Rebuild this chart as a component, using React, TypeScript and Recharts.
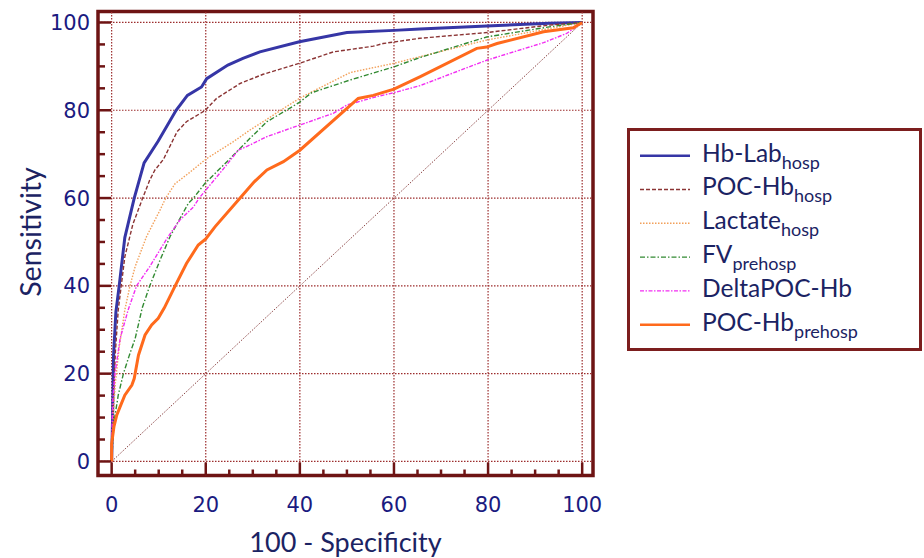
import React from 'react'
import { LineChart, Line, XAxis, YAxis, ReferenceLine, ReferenceArea, Legend, Label } from 'recharts'

// [100 - specificity, sensitivity]
const hbLabHosp: [number, number][] = [
  [0, 0], [0.2, 10], [0.4, 24], [0.9, 34], [1.6, 40], [2.8, 51], [4.8, 60], [6.9, 68], [9.9, 73],
  [13.7, 80], [16.1, 83.4], [19.1, 85.3], [20.2, 87.2], [24.7, 90.3], [27.9, 91.8], [31.5, 93.3],
  [39.9, 95.6], [50, 97.7], [60, 98.2], [65.5, 98.5], [79.7, 99.2], [93, 99.8], [100, 100],
]
const pocHbHosp: [number, number][] = [
  [0, 0], [0.3, 12], [0.8, 25], [1.4, 34.5], [2.8, 46.6], [4.5, 54], [6.6, 60], [8.1, 64.1],
  [9.2, 66.4], [11, 68.8], [13.9, 75.1], [15.9, 77.4], [19.8, 79.9], [22.3, 82.7], [27.3, 86.1],
  [32.2, 88.2], [39.9, 90.7], [47.1, 93.3], [55.6, 94.6], [57.7, 95.2], [65.5, 96.4], [79.7, 97.7],
  [93, 99.4], [100, 100],
]
const lactateHosp: [number, number][] = [
  [0, 0], [0.3, 10], [0.8, 18], [1.6, 26], [2.8, 34.5], [3.9, 40], [5, 44.4], [7.4, 51.2],
  [10.3, 57.3], [11.5, 60], [13.5, 63.3], [16.3, 65.6], [20.2, 69], [25.8, 72.8], [29.4, 75.5],
  [32.2, 77.4], [36.5, 80.4], [39.9, 82.7], [42.2, 84], [50.7, 88.6], [60, 90.7], [65.5, 92.2],
  [79.7, 96], [93, 98.6], [100, 100],
]
const fvPrehosp: [number, number][] = [
  [0, 0], [0.5, 9], [1.4, 15.1], [2.5, 20], [3.7, 24], [5, 28], [6.5, 35], [8.1, 40], [10.3, 45.9],
  [12.4, 51.2], [16.3, 58.8], [17.4, 60], [19.8, 63.3], [24.8, 68.6], [29.4, 73.6], [33, 77.4],
  [36.5, 79.6], [39.9, 81.8], [42.5, 84], [50.7, 86.9], [60, 89.9], [65.5, 92], [79.7, 96.7],
  [93, 99], [100, 100],
]
const deltaPocHb: [number, number][] = [
  [0, 0], [0.1, 9], [0.3, 15], [0.7, 20], [1.8, 28], [3.5, 34.5], [5.3, 40], [8.1, 44.4],
  [12, 51.2], [14.5, 55], [17.4, 58], [18.6, 60], [24.1, 67.1], [26.9, 70.9], [29.4, 72.1],
  [33, 74], [39.9, 76.6], [47.1, 79.3], [50, 81.2], [56.3, 83.1], [60, 84], [65.5, 85.6],
  [79.7, 91.4], [91.8, 95.4], [96.7, 97.5], [100, 100],
]
const pocHbPrehosp: [number, number][] = [
  [0, 0], [0, 4], [0.5, 8], [1.1, 10.6], [2, 13], [2.8, 15.1], [4.3, 17.4], [4.8, 18.9], [5.7, 24.2],
  [7.1, 28.8], [8.5, 31.1], [9.9, 32.6], [11.2, 35], [13.5, 40], [15.9, 45.1], [18.4, 49.3],
  [20, 50.7], [22, 53.5], [27.3, 60], [30.3, 63.7], [33, 66.4], [36.5, 68.3], [40, 70.9],
  [52.4, 82.7], [55.6, 83.4], [60, 84.8], [65.5, 87.6], [77.6, 94.1], [79.7, 94.4], [81.9, 95.2],
  [91.8, 97.9], [98.1, 98.8], [100, 100],
]
const chance: [number, number][] = [[0, 0], [100, 100]]

const axisTicks = [0, 5, 10, 15, 20, 25, 30, 35, 40, 45, 50, 55, 60, 65, 70, 75, 80, 85, 90, 95, 100]
const gridValues = [0, 20, 40, 60, 80, 100]

const FRAME = '#6e1414'
const GRID = '#9c2d2d'
const NAVY = '#1a1a80'
const TEXT = '#1b2363'

const series = [
  { name: 'Hb-Lab', sub: 'hosp', data: hbLabHosp, color: '#3636a6', width: 3, dash: undefined },
  { name: 'POC-Hb', sub: 'hosp', data: pocHbHosp, color: '#8b3434', width: 1.4, dash: '4 2' },
  { name: 'Lactate', sub: 'hosp', data: lactateHosp, color: '#f2a05a', width: 1.4, dash: '1.5 1.5' },
  { name: 'FV', sub: 'prehosp', data: fvPrehosp, color: '#328a32', width: 1.4, dash: '5 2 1.5 2' },
  { name: 'DeltaPOC-Hb', sub: '', data: deltaPocHb, color: '#f22ef2', width: 1.4, dash: '4 1.5 1.5 1.5' },
  { name: 'POC-Hb', sub: 'prehosp', data: pocHbPrehosp, color: '#ff6a1c', width: 3, dash: undefined },
]

const toPoints = (d: [number, number][]) => d.map(([v, s]) => ({ v, s }))

const XTick = (props: any) => {
  const { x, y, payload } = props
  const major = payload.value % 20 === 0
  return (
    <g>
      <line x1={x} x2={x} y1={y} y2={y - (major ? 13 : 6)} stroke={FRAME} strokeWidth={2.5} />
      {major && (
        <text x={x} y={y + 36} textAnchor="middle" fill={NAVY} fontSize={21} fontFamily="DejaVu Sans">
          {payload.value}
        </text>
      )}
    </g>
  )
}

const YTick = (props: any) => {
  const { x, y, payload } = props
  const major = payload.value % 20 === 0
  return (
    <g>
      <line x1={x} x2={x + (major ? 13 : 7)} y1={y} y2={y} stroke={FRAME} strokeWidth={2.5} />
      {major && (
        <text x={x - 8} y={y + 7.5} textAnchor="end" fill={NAVY} fontSize={21} fontFamily="DejaVu Sans">
          {payload.value}
        </text>
      )}
    </g>
  )
}

const LegendBox = () => (
  <div style={{ border: `3px solid #7c1e1e`, width: 295, height: 223, boxSizing: 'border-box', background: '#fff' }}>
    <svg width={289} height={217}>
      {series.map((s, i) => {
        const cy = 21.7 + i * 33.8
        return (
          <g key={i}>
            <line x1={10} x2={60} y1={cy + 3} y2={cy + 3} stroke={s.color} strokeWidth={s.width === 3 ? 2.5 : 1.4} strokeDasharray={s.dash} />
            <text x={72} y={cy + 8.8} fill={TEXT} fontSize={24.5} fontFamily="Lato">
              {s.name}
              {s.sub && <tspan dy={7} fontSize={18}>{s.sub}</tspan>}
            </text>
          </g>
        )
      })}
    </svg>
  </div>
)

export default function App() {
  return (
    <div style={{ position: 'absolute', left: 0, top: 0, width: 924, height: 558, background: '#fff' }}>
      <LineChart width={924} height={558} margin={{ top: 11.5, right: 331, bottom: 0, left: 0 }}>
        <XAxis
          type="number"
          dataKey="v"
          domain={[-2.9, 102.3]}
          allowDataOverflow
          ticks={axisTicks}
          interval={0}
          tick={<XTick />}
          tickLine={false}
          axisLine={false}
          tickSize={0}
          tickMargin={0}
          height={82.5}
        >
          <Label
            content={() => (
              <text x={345.5} y={552} textAnchor="middle" fill={TEXT} fontSize={27} fontFamily="Lato">
                100 - Specificity
              </text>
            )}
          />
        </XAxis>
        <YAxis
          type="number"
          dataKey="s"
          domain={[-3.2, 102.5]}
          allowDataOverflow
          ticks={axisTicks}
          interval={0}
          tick={<YTick />}
          tickLine={false}
          axisLine={false}
          tickSize={0}
          tickMargin={0}
          width={98}
        >
          <Label
            content={() => (
              <text x={41} y={232} textAnchor="middle" fill={TEXT} fontSize={28.5} fontFamily="Lato" transform="rotate(-90 41 232)">
                Sensitivity
              </text>
            )}
          />
        </YAxis>
        {gridValues.map((g) => (
          <ReferenceLine key={'x' + g} x={g} stroke={GRID} strokeWidth={1.2} strokeDasharray="1.5 1.5" />
        ))}
        {gridValues.map((g) => (
          <ReferenceLine key={'y' + g} y={g} stroke={GRID} strokeWidth={1.2} strokeDasharray="1.5 1.5" />
        ))}
        <Line
          data={toPoints(chance)}
          dataKey="s"
          stroke="#8b4545"
          strokeWidth={1}
          strokeDasharray="1.5 1.5"
          dot={false}
          legendType="none"
          isAnimationActive={false}
        />
        {series.map((s, i) => (
          <Line
            key={i}
            data={toPoints(s.data)}
            dataKey="s"
            name={s.name + s.sub}
            stroke={s.color}
            strokeWidth={s.width}
            strokeDasharray={s.dash}
            dot={false}
            activeDot={false}
            isAnimationActive={false}
          />
        ))}
        <ReferenceArea x1={-2.9} x2={102.3} y1={-3.2} y2={102.5} fill="none" stroke={FRAME} strokeWidth={3.5} />
        <Legend
          layout="vertical"
          align="center"
          verticalAlign="middle"
          content={<LegendBox />}
          wrapperStyle={{ left: 627, top: 128, width: 295, height: 223 }}
        />
      </LineChart>
    </div>
  )
}
